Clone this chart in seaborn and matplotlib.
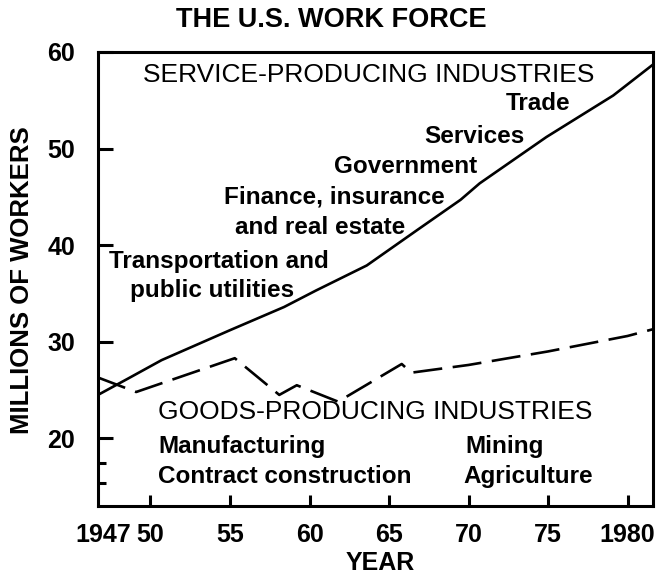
import matplotlib
matplotlib.use('Agg')
import matplotlib.pyplot as plt
import pandas as pd
import seaborn as sns

# values (millions of workers)
service_years = [1946.7, 1948.6, 1950.7, 1955.0, 1958.4, 1960.4, 1963.6, 1966.8,
                 1969.5, 1970.7, 1974.9, 1979.1, 1981.6]
service_vals = [24.5, 26.2, 28.1, 31.2, 33.6, 35.3, 37.9, 41.6,
                44.7, 46.4, 51.2, 55.5, 58.7]

goods_years = [1946.7, 1949.1, 1955.3, 1958.1, 1959.2, 1961.8, 1965.8, 1966.4,
               1970.0, 1975.0, 1980.0, 1981.6]
goods_vals = [26.3, 24.8, 28.3, 24.5, 25.5, 23.8, 27.7, 26.8,
              27.6, 29.0, 30.6, 31.3]

x_ticks = [1947, 1950, 1955, 1960, 1965, 1970, 1975, 1980]
x_labels = ['1947', '50', '55', '60', '65', '70', '75', '1980']
y_ticks = [20, 30, 40, 50, 60]

sns.set_style('white')
plt.rcParams['font.family'] = ['Liberation Sans', 'DejaVu Sans']
for k in ['text.color', 'axes.labelcolor', 'xtick.color', 'ytick.color']:
    plt.rcParams[k] = 'black'

service = pd.DataFrame({'year': service_years, 'workers': service_vals})
goods = pd.DataFrame({'year': goods_years, 'workers': goods_vals})

fig = plt.figure(figsize=(6.59, 5.79), dpi=100)
ax = fig.add_axes([0.1487, 0.1261, 0.8422, 0.7841])

sns.lineplot(data=service, x='year', y='workers', ax=ax, color='black', lw=1.9)
sns.lineplot(data=goods, x='year', y='workers', ax=ax, color='black', lw=1.9)
ax.lines[-1].set_dashes([11, 4])

ax.set_xlim(1946.7, 1981.6)
ax.set_ylim(13.0, 60.0)

ax.set_xticks(x_ticks)
ax.set_xticklabels(x_labels)
ax.set_yticks(y_ticks)
ax.set_yticks([15.4, 17.4], minor=True)
ax.tick_params(axis='y', which='major', direction='in', length=11, width=2.2,
               labelsize=18, pad=16.5, left=True)
ax.tick_params(axis='y', which='minor', direction='in', length=6, width=2.2,
               left=True)
ax.tick_params(axis='x', which='major', direction='in', length=8, width=2.2,
               labelsize=18, pad=12, bottom=True)
# 1947 sits on the left spine, no tick mark there
ax.xaxis.get_major_ticks()[0].tick1line.set_visible(False)
for lab in ax.get_xticklabels() + ax.get_yticklabels():
    lab.set_fontweight('bold')
for s in ax.spines.values():
    s.set_linewidth(2.2)
    s.set_color('black')

ax.set_xlabel('YEAR', fontsize=18, fontweight='bold')
ax.xaxis.set_label_coords((380 - 98) / 555, (506 - 563) / 454)
ax.xaxis.label.set_va('center')
ax.set_ylabel('MILLIONS OF WORKERS', fontsize=18.5, fontweight='bold')
ax.yaxis.set_label_coords((22 - 98) / 555, (506 - 280) / 454)
ax.yaxis.label.set_va('center')
fig.text(331 / 659, 1 - 20 / 579, 'THE U.S. WORK FORCE', ha='center',
         va='center', fontsize=19.5, fontweight='bold')


def px(x, y):
    return ((x - 98) / 555, (506 - y) / 454)


labels = [
    ('SERVICE-PRODUCING INDUSTRIES', 369, 75, 'center', 'normal', 19),
    ('Trade', 570, 104, 'right', 'bold', 17.5),
    ('Services', 525, 137, 'right', 'bold', 17.5),
    ('Government', 477, 167, 'right', 'bold', 17.5),
    ('Finance, insurance', 334, 197, 'center', 'bold', 17.5),
    ('and real estate', 405, 228, 'right', 'bold', 17.5),
    ('Transportation and', 219, 262, 'center', 'bold', 17.5),
    ('public utilities', 212, 291, 'center', 'bold', 17.5),
    ('GOODS-PRODUCING INDUSTRIES', 158, 412, 'left', 'normal', 19),
    ('Manufacturing', 158, 447, 'left', 'bold', 17.5),
    ('Contract construction', 158, 477, 'left', 'bold', 17.5),
    ('Mining', 465, 447, 'left', 'bold', 17.5),
    ('Agriculture', 463, 477, 'left', 'bold', 17.5),
]
for txt, x, y, ha, wt, fs in labels:
    fx, fy = px(x, y)
    ax.text(fx, fy, txt, transform=ax.transAxes, ha=ha, va='center',
            fontsize=fs, fontweight=wt)

fig.savefig('out.png', dpi=100)
